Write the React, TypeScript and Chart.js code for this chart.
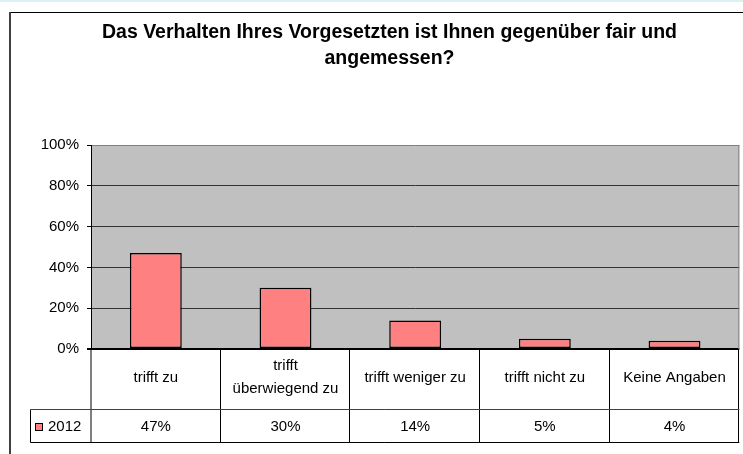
import React, { useEffect, useRef } from 'react';
import { Chart, registerables } from 'chart.js';

Chart.register(...registerables);

const titleLines = ['Das Verhalten Ihres Vorgesetzten ist Ihnen gegenüber fair und', 'angemessen?'];
const categories: (string | string[])[] = [
  'trifft zu',
  ['trifft', 'überwiegend zu'],
  'trifft weniger zu',
  'trifft nicht zu',
  'Keine Angaben',
];
const seriesName = '2012';
const values = [47, 30, 14, 5, 4];
const yTicks = [0, 20, 40, 60, 80, 100];

const FONT = "'Liberation Sans', Arial, sans-serif";
const BAR_COLOR = '#ff8080';

const excelPlugin = {
  id: 'excelLook',
  beforeDraw(chart: any) {
    const { ctx, chartArea: a, width, height } = chart;
    ctx.save();
    ctx.fillStyle = '#ffffff';
    ctx.fillRect(0, 0, width, height);
    ctx.fillStyle = '#dcf2f2';
    ctx.fillRect(0, 0, width, 2);
    // frame
    ctx.strokeStyle = '#000000';
    ctx.lineWidth = 1;
    ctx.beginPath();
    ctx.moveTo(9, 12.5);
    ctx.lineTo(width, 12.5);
    ctx.stroke();
    ctx.strokeStyle = '#404040';
    ctx.lineWidth = 2;
    ctx.beginPath();
    ctx.moveTo(10, 12);
    ctx.lineTo(10, height);
    ctx.stroke();
    // plot area background
    ctx.fillStyle = '#c0c0c0';
    ctx.fillRect(a.left, a.top, a.right - a.left, a.bottom - a.top);
    ctx.restore();
  },
  afterDraw(chart: any) {
    const { ctx, chartArea: a } = chart;
    const xs = chart.scales.x;
    const n = categories.length;
    const cw = (a.right - a.left) / n;
    ctx.save();
    // title
    ctx.fillStyle = '#000';
    ctx.font = `bold 19.5px ${FONT}`;
    ctx.textAlign = 'center';
    ctx.textBaseline = 'alphabetic';
    ctx.fillText(titleLines[0], 389.5, 38);
    ctx.fillText(titleLines[1], 389.5, 64);

    // plot right border
    ctx.strokeStyle = '#808080';
    ctx.lineWidth = 1;
    ctx.beginPath();
    ctx.moveTo(a.right - 0.5, a.top);
    ctx.lineTo(a.right - 0.5, a.bottom);
    ctx.stroke();

    // data table
    const row1Bottom = 409.5;
    const row2Bottom = 442.5;
    const legLeft = 30.5;
    ctx.strokeStyle = '#000';
    ctx.lineWidth = 1;
    ctx.beginPath();
    for (let i = 0; i <= n; i++) {
      const x = Math.round(xs.getPixelForValue(0) - cw / 2 + i * cw) - 0.5;
      ctx.moveTo(x + (i === 0 ? 0.5 : 0), a.bottom);
      ctx.lineTo(x + (i === 0 ? 0.5 : 0), row2Bottom);
    }
    ctx.moveTo(legLeft, row1Bottom);
    ctx.lineTo(legLeft, row2Bottom);
    ctx.moveTo(legLeft, row2Bottom);
    ctx.lineTo(a.right, row2Bottom);
    ctx.stroke();
    ctx.strokeStyle = '#404040';
    ctx.beginPath();
    ctx.moveTo(legLeft, row1Bottom);
    ctx.lineTo(a.right, row1Bottom);
    ctx.stroke();

    // legend key
    ctx.fillStyle = BAR_COLOR;
    ctx.fillRect(35.5, 423.5, 7, 7);
    ctx.strokeStyle = '#000';
    ctx.strokeRect(35.5, 423.5, 7, 7);
    ctx.fillStyle = '#000';
    ctx.font = `15px ${FONT}`;
    ctx.textAlign = 'left';
    ctx.textBaseline = 'middle';
    ctx.fillText(seriesName, 48, 427);

    // values row
    ctx.textAlign = 'center';
    values.forEach((v, i) => {
      ctx.fillText(`${v}%`, xs.getPixelForValue(i), 427);
    });
    ctx.restore();
  },
};

export default function App() {
  const ref = useRef<HTMLCanvasElement>(null);
  useEffect(() => {
    if (!ref.current) return;
    Chart.defaults.font.family = FONT;
    const chart = new Chart(ref.current, {
      type: 'bar',
      data: {
        labels: categories as any,
        datasets: [
          {
            label: seriesName,
            data: values,
            backgroundColor: BAR_COLOR,
            borderColor: '#000000',
            borderWidth: 1.5,
            borderSkipped: false,
            barPercentage: 0.4,
            categoryPercentage: 1,
          },
        ],
      },
      options: {
        responsive: false,
        animation: false,
        devicePixelRatio: 1,
        layout: { padding: { top: 145, left: 0, right: 2, bottom: 12 } },
        plugins: {
          legend: { display: false },
          title: { display: false },
          tooltip: { enabled: false },
        },
        scales: {
          x: {
            grid: { display: false, drawTicks: false, tickLength: 0 },
            border: { display: false },
            ticks: {
              color: '#000',
              font: { family: FONT, size: 15, lineHeight: 1.53 },
              padding: 17,
              crossAlign: 'center',
              maxRotation: 0,
              minRotation: 0,
              autoSkip: false,
            },
            afterFit: (s: any) => {
              s.height = 93;
            },
          },
          y: {
            min: 0,
            max: 100,
            afterBuildTicks: (s: any) => {
              s.ticks = yTicks.map((v) => ({ value: v }));
            },
            ticks: {
              color: '#000',
              font: { family: FONT, size: 15 },
              padding: 8,
              callback: (v: any) => `${v}%`,
            },
            grid: {
              color: (c: any) =>
                c.tick && c.tick.value === 100 ? '#808080' : c.tick && c.tick.value === 0 ? '#000000' : '#333333',
              lineWidth: (c: any) => (c.tick && c.tick.value === 0 ? 2 : 1),
              tickLength: 4,
              tickColor: '#000000',
            },
            border: { color: '#000000', width: 1 },
            afterFit: (s: any) => {
              s.width = 91;
            },
          },
        },
      },
      plugins: [excelPlugin],
    });
    return () => chart.destroy();
  }, []);
  return (
    <div style={{ position: 'absolute', left: 0, top: 0, width: 743, height: 454 }}>
      <canvas ref={ref} width={743} height={454} style={{ display: 'block' }} />
    </div>
  );
}
